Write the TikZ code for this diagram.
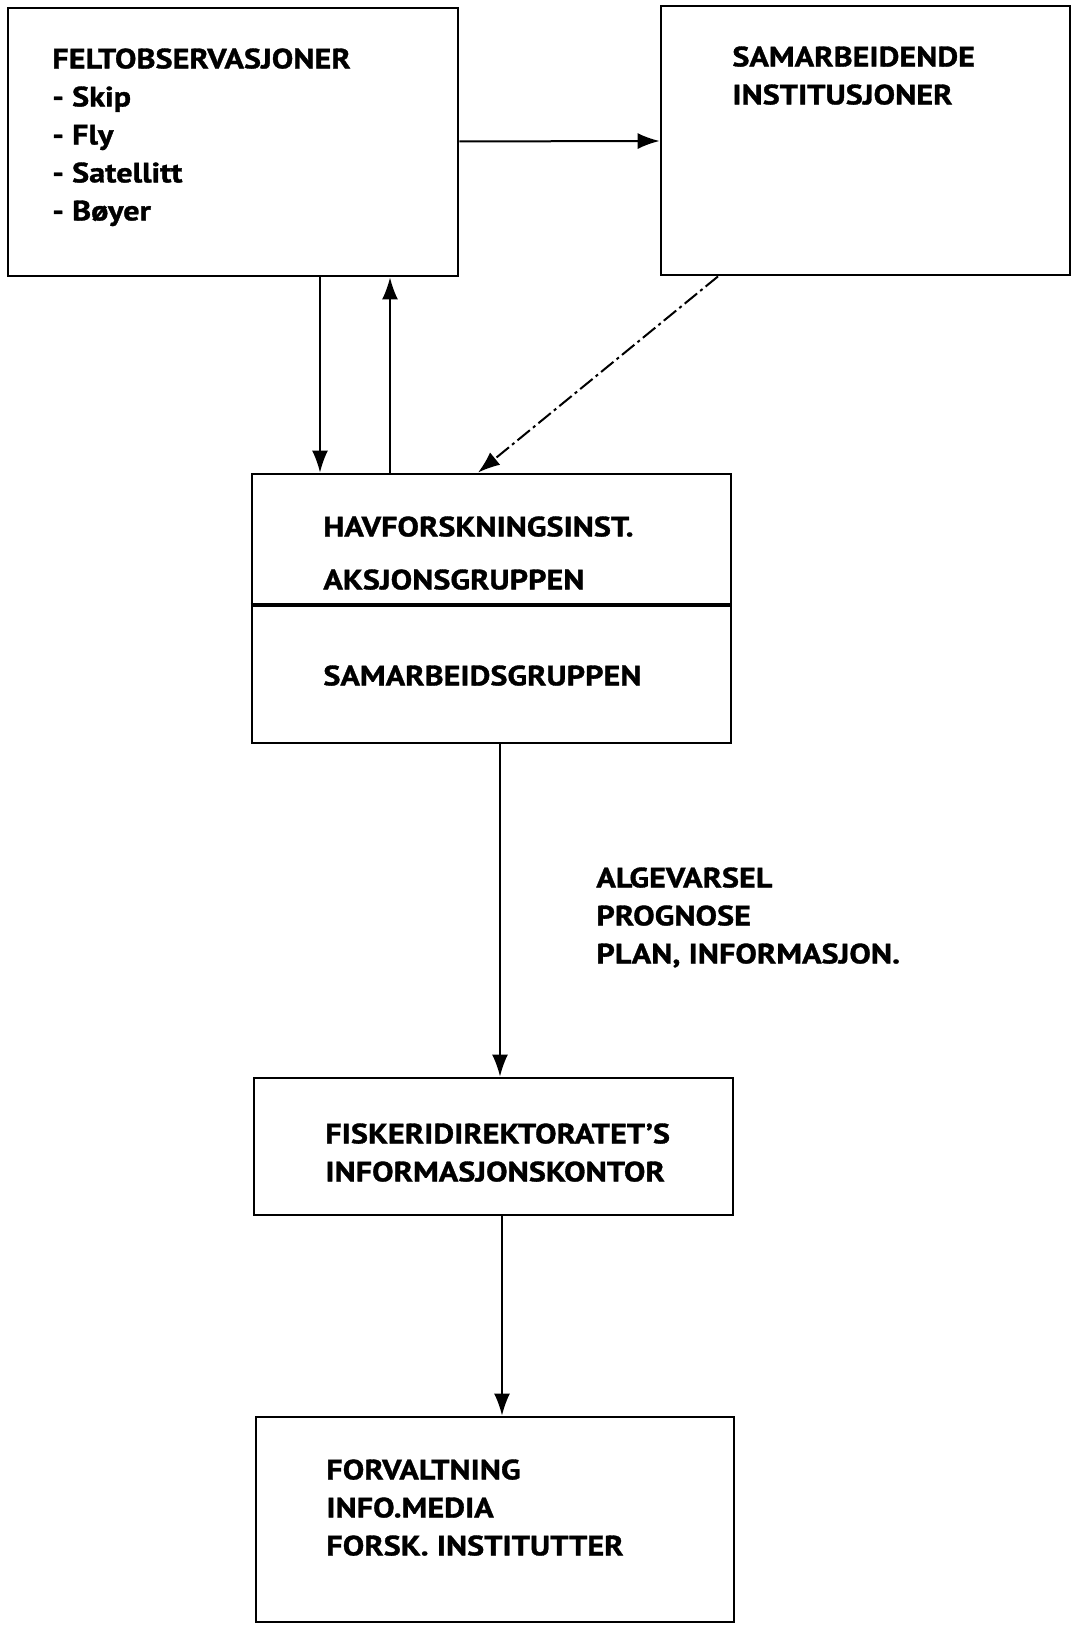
\documentclass[tikz,border=0pt]{standalone}
\usepackage{fontspec}
\setmainfont[FakeStretch=1.15, BoldFeatures={FakeBold=1.2}]{PT Sans}
\usepackage{xcolor}
\usetikzlibrary{arrows.meta,positioning}

\tikzset{
  boks/.style={draw, rectangle, line width=1.4pt, inner sep=0pt},
  tekst/.style={anchor=north west, align=left, inner sep=0pt,
    font=\fontsize{14}{19}\selectfont\bfseries},
  pil/.style={-{Latex[length=11pt,width=8pt]}, line width=1pt},
}

\begin{document}
\begin{tikzpicture}[x=0.5pt,y=-0.5pt]
\useasboundingbox (0,0) rectangle (1072,1628);

\node[boks, minimum width=225pt, minimum height=134pt] (F) at (233,142) {};%
\node[tekst] (Ft) at (52,48)
{FELTOBSERVASJONER\\- Skip\\- Fly\\- Satellitt\\- Bøyer};%
\node[boks, minimum width=204.5pt, minimum height=134.5pt] (S) at (865.5,140.5) {};%
\node[tekst] (St) at (732,46)
{SAMARBEIDENDE\\INSTITUSJONER};%
\node[boks, minimum width=239.5pt, minimum height=134.5pt] (H) at (491.5,608.5) {};%
\node[tekst] (Ht) at (323,516)
{HAVFORSKNINGSINST.\\[7.5pt]AKSJONSGRUPPEN};%
\node[tekst] (SGt) at (323,665)
{SAMARBEIDSGRUPPEN};%
\node[boks, minimum width=239.5pt, minimum height=68.5pt] (FI) at (493.5,1146.5) {};%
\node[tekst] (FIt) at (325,1123)
{FISKERIDIREKTORATET’S\\INFORMASJONSKONTOR};%
\node[boks, minimum width=239pt, minimum height=102.5pt] (FO) at (495,1519.5) {};%
\node[tekst] (FOt) at (326,1459)
{FORVALTNING\\INFO.MEDIA\\FORSK. INSTITUTTER};%
\node[tekst] (L) at (596,867)
{ALGEVARSEL\\PROGNOSE\\PLAN, INFORMASJON.};

\draw[line width=2pt] ([yshift=1.75pt]H.west) -- ([yshift=1.75pt]H.east);

\draw[pil] (F) -- (S) ;
\draw[pil] ([xshift=43.5pt]F.south) -- ([xshift=43.5pt]F.south |- H.north) ;
\draw[pil] ([xshift=78.5pt]F.south |- H.north) -- ([xshift=78.5pt]F.south) ;
\draw[pil, dash pattern=on 8pt off 2pt on 1.5pt off 2pt] ([xshift=-73.75pt]S.south) -- ([xshift=-6.75pt]H.north) ;
\draw[pil] ([xshift=4.25pt]H.south) -- ([xshift=4.25pt]H.south |- FI.north) ;
\draw[pil] ([xshift=4.25pt]FI.south) -- ([xshift=4.25pt]FI.south |- FO.north) ;
\end{tikzpicture}
\end{document}
